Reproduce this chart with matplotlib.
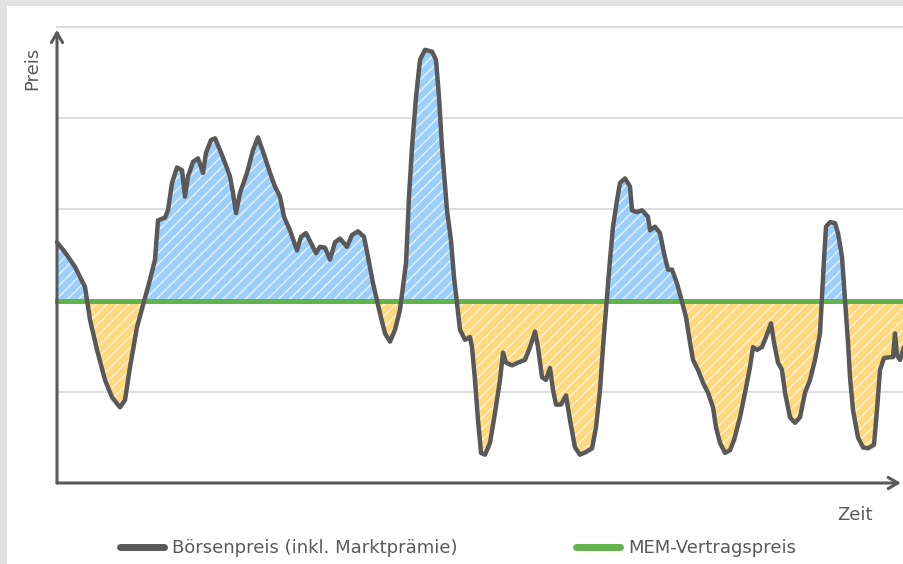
import numpy as np
import matplotlib
matplotlib.use("Agg")
from matplotlib import pyplot as plt
from matplotlib.lines import Line2D
from matplotlib.patches import Rectangle

# Zeitachse (beliebige Einheiten) und Börsenpreis
zeit = [0, 8, 18, 28, 33, 40, 48, 55, 63, 68, 73, 80, 93, 98, 101, 108, 111, 115,
        120, 125, 128, 131, 136, 141, 146, 149, 154, 158, 163, 168, 173, 176, 179,
        183, 190, 196, 201, 208, 213, 218, 223, 227, 233, 240, 244, 249, 254, 259,
        263, 268, 273, 278, 283, 290, 295, 301, 307, 311, 316, 323, 328, 333, 338,
        343, 349, 352, 355, 359, 363, 368, 375, 379, 382, 385, 390, 394, 397, 403,
        408, 413, 415, 418, 421, 424, 428, 433, 438, 443, 446, 449, 455, 461, 468,
        473, 478, 481, 485, 489, 493, 496, 499, 504, 509, 513, 518, 523, 529, 535,
        539, 543, 546, 553, 556, 560, 563, 568, 573, 575, 580, 585, 591, 593, 598,
        603, 607, 611, 615, 620, 629, 633, 636, 641, 646, 651, 656, 659, 663, 668,
        673, 677, 683, 688, 693, 696, 700, 705, 709, 714, 717, 721, 725, 728, 733,
        738, 743, 748, 753, 758, 763, 767, 769, 773, 778, 781, 785, 791, 793, 796,
        801, 806, 811, 817, 820, 823, 827, 833, 836, 838, 840, 843, 847]
boersenpreis = [26.4, 25.3, 23.7, 21.5, 17.9, 14.6, 11.3, 9.4, 8.3, 9.1, 12.7, 17.1,
                22.3, 24.5, 28.8, 29.1, 29.9, 32.9, 34.6, 34.3, 31.4, 33.6, 35.2, 35.6,
                34.0, 36.2, 37.6, 37.8, 36.5, 35.1, 33.6, 31.8, 29.6, 31.8, 34.0, 36.5,
                37.9, 35.7, 34.0, 32.5, 31.4, 29.2, 27.7, 25.5, 27.0, 27.4, 26.3, 25.2,
                25.9, 25.8, 24.5, 26.4, 26.8, 25.9, 27.2, 27.6, 27.0, 24.8, 21.9, 18.6,
                16.4, 15.5, 16.8, 19.0, 24.1, 31.4, 36.8, 42.3, 46.4, 47.5, 47.3, 46.4,
                42.3, 36.8, 29.9, 26.6, 22.6, 16.8, 15.7, 16.0, 14.9, 11.3, 6.9, 3.3,
                3.1, 4.4, 7.7, 11.3, 14.3, 13.2, 12.9, 13.2, 13.5, 14.9, 16.6, 14.9,
                11.6, 11.3, 12.6, 10.2, 8.6, 8.6, 9.6, 6.9, 3.9, 3.1, 3.4, 3.8, 6.1,
                10.2, 14.9, 24.5, 28.1, 31.0, 32.9, 33.4, 32.5, 29.9, 29.7, 29.9, 29.2,
                27.7, 28.1, 27.4, 25.2, 23.4, 23.4, 21.9, 18.2, 15.4, 13.5, 12.4, 11.0,
                9.9, 8.3, 6.1, 4.4, 3.3, 3.6, 4.7, 7.2, 9.9, 12.7, 14.9, 14.6, 14.9,
                16.0, 17.5, 15.4, 13.2, 12.4, 9.9, 7.2, 6.6, 7.2, 9.9, 11.3, 13.5, 16.4,
                24.5, 28.1, 28.6, 28.5, 27.4, 24.8, 15.4, 11.6, 8.0, 5.0, 3.9, 3.8, 4.2,
                8.0, 12.4, 13.7, 13.8, 13.8, 16.4, 14.0, 13.5, 14.9]
vertragspreis = 20
gitter = [10, 20, 30, 40, 50]

GRAU = "#595959"
GRUEN = "#62b34b"
BLAU = "#9ccffa"
ORANGE = "#ffd97f"

plt.rcParams["font.family"] = "DejaVu Sans"
plt.rcParams["hatch.linewidth"] = 1.0
plt.rcParams["hatch.color"] = "white"

fig = plt.figure(figsize=(9.04, 5.64), dpi=100, facecolor="#e1e2e1")
# weisser Hintergrund (Rahmen links/oben grau)
fig.patches.append(Rectangle((7 / 904, 0), 1, 558 / 564, transform=fig.transFigure,
                             facecolor="white", edgecolor="none", zorder=-5))

ax = fig.add_axes([57 / 904, 81 / 564, 847 / 904, 456 / 564])
ax.set_facecolor("none")
ax.set_xlim(0, 847)
ax.set_ylim(0, 50)
for s in ax.spines.values():
    s.set_visible(False)
ax.set_xticks([])
ax.set_yticks([])

for g in gitter:
    ax.axhline(g, color="#dedede", lw=1.4, zorder=0, clip_on=False)

t = np.array(zeit, dtype=float)
p = np.array(boersenpreis)
ax.fill_between(t, p, vertragspreis, where=p >= vertragspreis, interpolate=True,
                facecolor=BLAU, edgecolor="#e6f3fe", hatch="///", linewidth=0, zorder=1)
ax.fill_between(t, p, vertragspreis, where=p <= vertragspreis, interpolate=True,
                facecolor=ORANGE, edgecolor="#fff3d6", hatch="///", linewidth=0, zorder=1)

ax.axhline(vertragspreis, color=GRUEN, lw=3.6, zorder=3, clip_on=False)
ax.plot(t, p, color=GRAU, lw=3.2, solid_joinstyle="round", solid_capstyle="round",
        zorder=4, clip_on=False)

# Achsen mit Pfeilspitzen
pfeil = dict(arrowstyle="->,head_length=0.7,head_width=0.4", lw=2.2, color=GRAU,
             shrinkA=0, shrinkB=0)
ax.annotate("", xy=(0, 49.7), xytext=(0, 0), arrowprops=pfeil, annotation_clip=False, zorder=5)
ax.annotate("", xy=(844, 0), xytext=(0, 0), arrowprops=pfeil, annotation_clip=False, zorder=5)

fig.text(32 / 904, 1 - 68 / 564, "Preis", rotation=90, ha="center", va="center",
         fontsize=13, color=GRAU)
fig.text(855 / 904, 1 - 515 / 564, "Zeit", ha="center", va="center",
         fontsize=13, color=GRAU)

handles = [Line2D([], [], color=GRAU, lw=5, solid_capstyle="round"),
           Line2D([], [], color=GRUEN, lw=5, solid_capstyle="round")]
fig.legend(handles, ["Börsenpreis (inkl. Marktprämie)", "MEM-Vertragspreis"],
           loc="center", bbox_to_anchor=(458 / 904, 16 / 564), ncol=2, frameon=False,
           fontsize=13, handlelength=2.4, handletextpad=0.45, columnspacing=6.6,
           labelcolor=GRAU)

fig.savefig("out.png", dpi=100, facecolor=fig.get_facecolor())
